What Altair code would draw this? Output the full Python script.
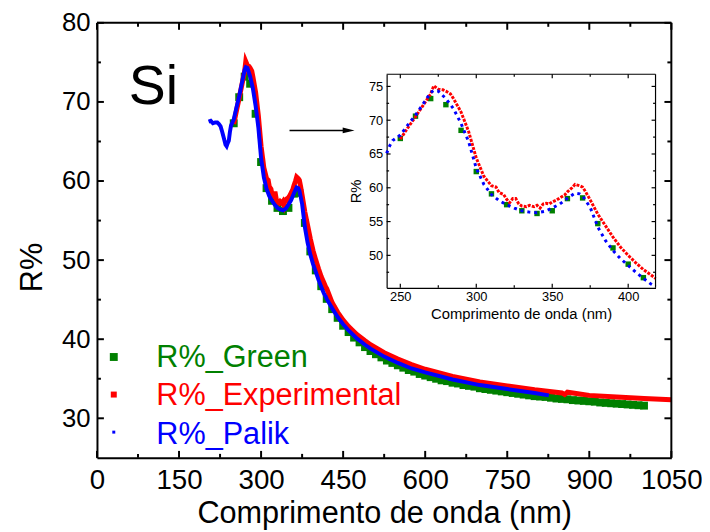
import altair as alt
import pandas as pd

F = "Liberation Sans"
W, H = 581, 440

series_names = ["R%_Green", "R%_Experimental", "R%_Palik"]
series_colors = ["#008000", "#ff0000", "#0000ff"]

green_nm = list(range(250, 1001, 10))
green_r = [67.3, 70.6, 73.2, 72.3, 68.5, 62.4, 59.1, 57.5, 56.6, 56.2, 56.6, 58.4, 58.5, 54.7, 51.1, 48.7, 46.7,
           45.1, 43.8, 42.7, 41.7, 40.9, 40.2, 39.6, 39.0, 38.5, 38.1, 37.7, 37.3, 37.0, 36.7, 36.4, 36.1, 35.9,
           35.6, 35.4, 35.2, 35.0, 34.8, 34.7, 34.5, 34.4, 34.2, 34.1, 34.0, 33.8, 33.7, 33.6, 33.5, 33.4, 33.3,
           33.2, 33.1, 33.0, 32.9, 32.8, 32.75, 32.7, 32.6, 32.5, 32.45, 32.4, 32.3, 32.25, 32.2, 32.15, 32.1,
           32.0, 31.95, 31.9, 31.85, 31.8, 31.75, 31.7, 31.65, 31.6]

exp_nm = [250, 255, 260, 265, 270, 272, 275, 278, 280, 283, 285, 290, 295, 300, 305, 310, 313, 315, 318, 320,
          322, 324, 326, 328, 330, 333, 335, 338, 340, 342, 344, 346, 348, 350, 353, 355, 358, 360, 363, 365,
          368, 370, 372, 375, 380, 385, 390, 395, 400, 405, 410, 415, 418, 420, 430, 440, 450, 460, 475, 490,
          500, 525, 550, 575, 600, 650, 700, 750, 800, 850, 855, 860, 900, 950, 1000, 1050]
exp_r = [67.2, 68.9, 70.5, 72.2, 73.9, 75.1, 74.6, 74.5, 74.3, 73.9, 73.2, 71.2, 68.3, 64.4, 61.7, 60.3, 60.1,
         59.3, 59.0, 58.3, 57.8, 58.4, 58.4, 57.6, 57.3, 57.2, 57.4, 57.2, 57.4, 57.0, 57.6, 57.7, 57.6, 57.9,
         58.2, 58.5, 58.9, 59.4, 60.0, 60.5, 60.3, 60.1, 59.4, 58.2, 56.1, 54.4, 52.7, 51.2, 50.0, 48.9, 47.9,
         47.1, 46.6, 46.4, 44.6, 43.4, 42.4, 41.6, 40.6, 39.8, 39.3, 38.3, 37.5, 36.8, 36.2, 35.3, 34.6, 34.1,
         33.6, 33.2, 33.0, 33.3, 32.9, 32.7, 32.5, 32.35]

pal_nm = [204, 208, 212, 216, 220, 223, 226, 229, 232, 235, 237, 239, 241, 243, 245, 250, 255, 260, 265, 270,
          272, 275, 280, 285, 290, 295, 300, 305, 310, 315, 320, 325, 330, 335, 340, 345, 350, 355, 360, 365,
          368, 370, 375, 380, 385, 390, 395, 400, 405, 410, 415, 418, 420, 430, 440, 450, 460, 475, 490, 500,
          525, 550, 575, 600, 650, 700, 750, 800, 826]
pal_r = [67.5, 67.6, 67.3, 67.4, 67.4, 67.2, 66.9, 66.2, 65.4, 64.6, 64.4, 64.8, 65.1, 66.2, 67.0, 67.8, 69.3,
         70.75, 72.4, 74.1, 74.4, 74.3, 73.2, 71.7, 69.5, 66.8, 62.9, 60.5, 59.0, 58.1, 57.5, 57.0, 56.6, 56.4,
         56.3, 56.5, 57.0, 57.6, 58.45, 59.2, 59.1, 58.8, 57.1, 54.2, 52.2, 50.7, 49.5, 48.5, 47.5, 46.6, 45.75,
         45.4, 45.1, 43.9, 42.8, 41.9, 41.1, 40.1, 39.3, 38.8, 37.8, 37.0, 36.3, 35.8, 34.9, 34.2, 33.7, 33.2, 32.9]

main_x_ticks = [0, 150, 300, 450, 600, 750, 900, 1050]
main_x_minor = [75, 225, 375, 525, 675, 825, 975]
main_y_ticks = [30, 40, 50, 60, 70, 80]
main_y_minor = [35, 45, 55, 65, 75]
ins_x_ticks = [250, 300, 350, 400]
ins_x_minor = [275, 325, 375]
ins_y_ticks = [50, 55, 60, 65, 70, 75]
ins_y_minor = [47.5, 52.5, 57.5, 62.5, 67.5, 72.5]

main_domain_x = [0, 1050]
main_domain_y = [25, 80]
ins_domain_x = [241, 418]
ins_domain_y = [45.2, 76.8]

# inset plot-area box in pixels of the main view
IL, IR, IT, IB = 293, 565, 52, 268

df_green = pd.DataFrame({"nm": green_nm, "r": green_r})
df_exp = pd.DataFrame({"nm": exp_nm, "r": exp_r})
df_pal = pd.DataFrame({"nm": pal_nm, "r": pal_r})

MX = alt.Scale(domain=main_domain_x, nice=False, zero=False)
MY = alt.Scale(domain=main_domain_y, nice=False, zero=False)
IX = alt.Scale(domain=ins_domain_x, range=[IL, IR], nice=False, zero=False)
IY = alt.Scale(domain=ins_domain_y, range=[IB, IT], nice=False, zero=False)


def enc(xs, ys):
    return dict(x=alt.X("nm:Q", scale=xs, axis=None), y=alt.Y("r:Q", scale=ys, axis=None))


in_range = alt.FieldRangePredicate(field="nm", range=ins_domain_x)

layers = []
# main data
layers.append(alt.Chart(df_green).mark_square(size=64, color="#008000", opacity=1).encode(**enc(MX, MY)))
layers.append(alt.Chart(df_exp).mark_line(color="#ff0000", strokeWidth=5).encode(**enc(MX, MY)))
layers.append(alt.Chart(df_pal).mark_line(color="#0000ff", strokeWidth=4).encode(**enc(MX, MY)))
# inset data
layers.append(alt.Chart(df_green).transform_filter(in_range).mark_square(size=30, color="#008000", opacity=1).encode(**enc(IX, IY)))
layers.append(alt.Chart(df_exp).transform_filter(in_range).mark_line(color="#ff0000", strokeWidth=3, strokeDash=[3, 1.3]).encode(**enc(IX, IY)))
layers.append(alt.Chart(df_pal).transform_filter(in_range).mark_line(color="#0000ff", strokeWidth=3, strokeDash=[3, 4]).encode(**enc(IX, IY)))

# labelled axes (carried by invisible layers)
tick_df = pd.DataFrame({"v": [300.0], "w": [50.0]})
lab_common = dict(ticks=False, tickSize=0, labelFont=F, labelColor="black", titleFont=F,
                  titleFontWeight="normal", titleColor="black", domainColor="black",
                  grid=False, labelFlush=False, labelOverlap=False)


def axes_layer(xs, ys, xaxis, yaxis):
    return alt.Chart(tick_df).mark_point(opacity=0).encode(
        x=alt.X("v:Q", scale=xs, axis=xaxis), y=alt.Y("w:Q", scale=ys, axis=yaxis))


layers.append(axes_layer(
    MX, MY,
    alt.Axis(orient="bottom", values=main_x_ticks, format="d", labelFontSize=28, labelPadding=9,
             title="Comprimento de onda (nm)", titleFontSize=31, titlePadding=4, domainWidth=2, **lab_common),
    alt.Axis(orient="left", values=main_y_ticks, format="d", labelFontSize=26, labelPadding=7,
             title="R%", titleFontSize=31, titlePadding=13, titleY=247, domainWidth=2, **lab_common)))
layers.append(axes_layer(
    IX, IY,
    alt.Axis(orient="bottom", offset=IB - H, values=ins_x_ticks, format="d", labelFontSize=13, labelPadding=3,
             title="Comprimento de onda (nm)", titleFontSize=15, titlePadding=3, domainWidth=1.2, **lab_common),
    alt.Axis(orient="left", offset=-IL, values=ins_y_ticks, format="d", labelFontSize=13, labelPadding=4,
             title="R%", titleFontSize=15, titlePadding=5, titleY=170, domainWidth=1.2, **lab_common)))


# inward ticks and frame, drawn as rules through the scales
def xticks(values, xs, y0, y1, w):
    return alt.Chart(pd.DataFrame({"v": values})).mark_rule(color="black", strokeWidth=w).encode(
        x=alt.X("v:Q", scale=xs, axis=None), y=alt.value(y0), y2=alt.value(y1))


def yticks(values, ys, x0, x1, w):
    return alt.Chart(pd.DataFrame({"v": values})).mark_rule(color="black", strokeWidth=w).encode(
        y=alt.Y("v:Q", scale=ys, axis=None), x=alt.value(x0), x2=alt.value(x1))


for vals, ln in ((main_x_ticks, 7), (main_x_minor, 4)):
    layers.append(xticks(vals, MX, H, H - ln, 2))
    layers.append(xticks(vals, MX, 0, ln, 2))
for vals, ln in ((main_y_ticks, 7), (main_y_minor, 4)):
    layers.append(yticks(vals, MY, 0, ln, 2))
    layers.append(yticks(vals, MY, W, W - ln, 2))
for vals, ln in ((ins_x_ticks, 4), (ins_x_minor, 2.5)):
    layers.append(xticks(vals, IX, IB, IB - ln, 1.2))
    layers.append(xticks(vals, IX, IT, IT + ln, 1.2))
for vals, ln in ((ins_y_ticks, 4), (ins_y_minor, 2.5)):
    layers.append(yticks(vals, IY, IL, IL + ln, 1.2))
    layers.append(yticks(vals, IY, IR, IR - ln, 1.2))


def frame(xs, ys, x0, x1, y0, y1, w):
    top = alt.Chart(pd.DataFrame({"a": [x0], "b": [x1], "c": [y1]})).mark_rule(color="black", strokeWidth=w).encode(
        x=alt.X("a:Q", scale=xs, axis=None), x2="b:Q", y=alt.Y("c:Q", scale=ys, axis=None))
    right = alt.Chart(pd.DataFrame({"a": [x1], "c": [y0], "d": [y1]})).mark_rule(color="black", strokeWidth=w).encode(
        x=alt.X("a:Q", scale=xs, axis=None), y=alt.Y("c:Q", scale=ys, axis=None), y2="d:Q")
    return [top, right]


layers += frame(MX, MY, main_domain_x[0], main_domain_x[1], main_domain_y[0], main_domain_y[1], 2)
layers += frame(IX, IY, ins_domain_x[0], ins_domain_x[1], ins_domain_y[0], ins_domain_y[1], 1.2)

# "Si" label
si_df = pd.DataFrame({"nm": [58], "r": [69.7], "t": ["Si"]})
layers.append(alt.Chart(si_df).mark_text(font=F, fontSize=56, align="left", baseline="alphabetic", color="black")
              .encode(text="t:N", **enc(MX, MY)))

# arrow
arrow_df = pd.DataFrame({"nm": [352.0], "nm2": [460.0], "r": [66.4]})
layers.append(alt.Chart(arrow_df).mark_rule(color="black", strokeWidth=1.5)
              .encode(x=alt.X("nm:Q", scale=MX, axis=None), x2="nm2:Q", y=alt.Y("r:Q", scale=MY, axis=None)))
head_df = pd.DataFrame({"nm": [460.0], "r": [66.4]})
layers.append(alt.Chart(head_df).mark_point(shape="M-1,-0.5L1,0L-1,0.5Z", size=144, filled=True,
                                            color="black", opacity=1).encode(**enc(MX, MY)))

# legend
color_scale = alt.Scale(domain=series_names, range=series_colors)
df_leg = pd.DataFrame({"series": series_names})
layers.append(alt.Chart(df_leg).mark_text(font=F, fontSize=31, align="left", baseline="alphabetic").encode(
    x=alt.value(60),
    y=alt.Y("series:N", scale=alt.Scale(domain=series_names, range=[348, 426], padding=0), axis=None),
    color=alt.Color("series:N", scale=color_scale, legend=None),
    text="series:N"))
layers.append(alt.Chart(df_leg).mark_point(shape="square", filled=True, opacity=1).encode(
    x=alt.value(17),
    y=alt.Y("series:N", scale=alt.Scale(domain=series_names, range=[338, 414], padding=0), axis=None),
    color=alt.Color("series:N", scale=color_scale, legend=None),
    size=alt.Size("series:N", scale=alt.Scale(domain=series_names, range=[64, 9, 9]), legend=None)))

chart = alt.layer(*layers).resolve_scale(x="independent", y="independent").properties(
    width=W, height=H,
    padding={"left": 90, "top": 12, "right": 31, "bottom": 72},
    autosize=alt.AutoSizeParams(type="none"),
    background="white",
).configure_view(stroke=None)

chart.save("out.html", embed_options={"renderer": "svg", "actions": False})
